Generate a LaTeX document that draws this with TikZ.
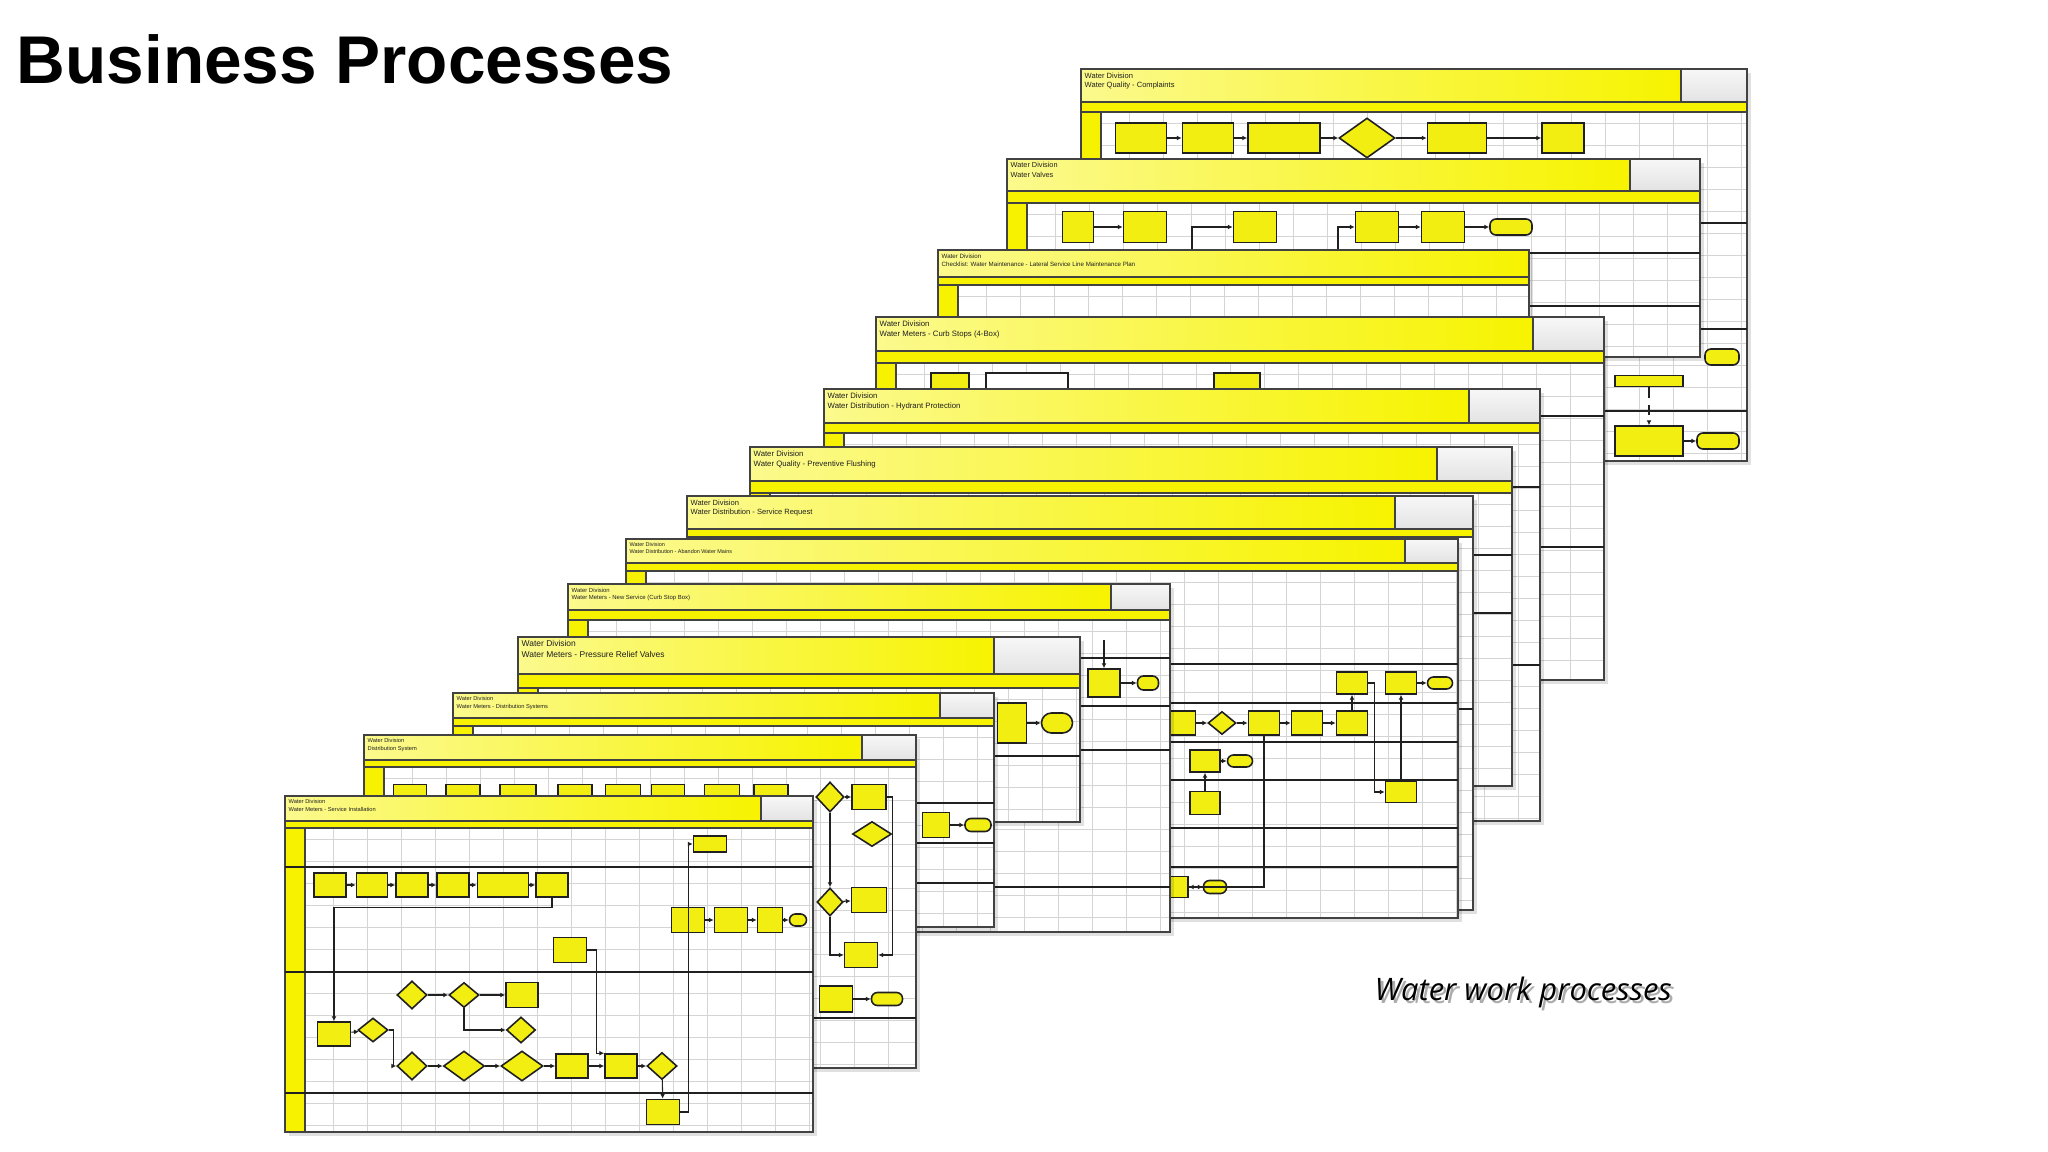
\documentclass[tikz,border=0pt]{standalone}
\usepackage{fontspec}
\setmainfont{Liberation Sans}
\newfontfamily\capfont{Open Sans}
\usetikzlibrary{shapes.geometric,arrows.meta}
\definecolor{hdr}{HTML}{F7F300}
\definecolor{boxyellow}{HTML}{F2EE12}
\definecolor{inkline}{HTML}{202020}
\definecolor{gridgray}{HTML}{D4D4D4}

\begin{document}
\begin{tikzpicture}[x=0.01cm,y=-0.01cm,
  gridline/.style={gridgray,line width=0.2pt},
  frame/.style={inkline!85,line width=0.45pt},
  laneline/.style={inkline,line width=0.5pt},
  pbox/.style={draw=inkline,fill=boxyellow,line width=0.45pt,inner sep=0pt,minimum width=3.2mm,minimum height=2.4mm},
  pdec/.style={pbox,diamond,minimum width=3mm,minimum height=2.6mm},
  pterm/.style={pbox,rounded corners=0.6mm,minimum width=2.4mm,minimum height=1.3mm},
  flow/.style={-{Latex[length=1.4pt,width=1.4pt]},inkline,line width=0.3pt}]
\useasboundingbox (0,0) rectangle (2048,1152);
\fill[white] (0,0) rectangle (2048,1152);
% one sheet: left, top, right, bottom, header bottom, band bottom, white box left, title, name
\def\procsheet#1#2#3#4#5#6#7#8#9{%
  \fill[black,opacity=0.12] ({#1+4},{#2+4}) rectangle ({#3+4},{#4+4});
  \fill[white] (#1,#2) rectangle (#3,#4);
  \begin{scope}
    \clip (#1,#6) rectangle (#3,#4);
    \foreach \gx in {14,48,...,1400} \draw[gridline] ({#1+\gx},#6) -- ({#1+\gx},#4);
    \foreach \gy in {11,33,...,1000} \draw[gridline] (#1,{#6+\gy}) -- (#3,{#6+\gy});
  \end{scope}
  \shade[left color=hdr!45!white,right color=hdr] (#1,#2) rectangle (#7,#5);
  \ifnum#7<#3\relax \shade[top color=gray!6,bottom color=gray!22] (#7,#2) rectangle (#3,#5);\fi
  \fill[hdr] (#1,#5) rectangle (#3,#6);
  \fill[hdr] (#1,#6) rectangle ({#1+20},#4);
  \draw[frame] (#1,#5) -- (#3,#5) (#1,#6) -- (#3,#6) ({#1+20},#6) -- ({#1+20},#4) (#7,#2) -- (#7,#5);
  \draw[frame] (#1,#2) rectangle (#3,#4);
  \pgfmathsetmacro\hfs{0.065*(#5-#2)}
  \pgfmathsetmacro\hbs{1.3*\hfs}
  \node[anchor=north west,align=left,inner sep=0pt,text=inkline,font=\fontsize{\hfs}{\hbs}\selectfont] (#9) at ({#1+3},{#2+3}) {Water Division\\#8};
}

% sheet A
\procsheet{1081}{69}{1747}{461}{102}{112}{1681}{Water Quality - Complaints}{hd-a}
\foreach \ly in {223,329,411} \draw[laneline] (1081,\ly) -- (1747,\ly);
\foreach \n/\x/\w in {1/1141/51,2/1208/51,3/1284/72,5/1457/59,6/1563/42}
  \node[pbox,minimum width=\w*0.1mm,minimum height=3mm] (a\n) at (\x,138) {};
\node[pdec,minimum width=5.6mm,minimum height=4mm] (a4) at (1367,138) {};
\foreach \s/\t in {1/2,2/3,3/4,4/5,5/6} \draw[flow] (a\s) -- (a\t);
\node[pbox,minimum width=6.8mm,minimum height=1.1mm] (a7) at (1649,381) {};
\node[pbox,minimum width=6.8mm,minimum height=3mm] (a8) at (1649,441) {};
\node[pterm,minimum width=3.4mm,minimum height=1.6mm] (a9) at (1722,357) {};
\node[pterm,minimum width=4.2mm,minimum height=1.6mm] (a10) at (1718,441) {};
\draw[flow,densely dashed] (a7) -- (a8);
\draw[flow] (a8) -- (a10);

% sheet B
\procsheet{1007}{159}{1700}{357}{191}{203}{1630}{Water Valves}{hd-b}
\foreach \ly in {253,306} \draw[laneline] (1007,\ly) -- (1700,\ly);
\foreach \n/\x/\w in {1/1078/31,2/1145/43,3/1255/43,4/1377/43,5/1443/43}
  \node[pbox,minimum width=\w*0.1mm,minimum height=3.1mm] (b\n) at (\x,227) {};
\node[pterm,minimum width=4.2mm,minimum height=1.6mm] (b6) at (1511,227) {};
\foreach \s/\t in {1/2,4/5,5/6} \draw[flow] (b\s) -- (b\t);
\coordinate (b3in) at (1192,250);
\coordinate (b4in) at (1338,250);
\draw[flow] (b3in) |- (b3.west);
\draw[flow] (b4in) |- (b4.west);

% sheet C
\procsheet{938}{250}{1529}{420}{277}{285}{1529}{Checklist: Water Maintenance - Lateral Service Line Maintenance Plan}{hd-c}

% sheet D
\procsheet{876}{317}{1604}{680}{351}{363}{1533}{Water Meters - Curb Stops (4-Box)}{hd-d}
\foreach \ly in {416,547} \draw[laneline] (876,\ly) -- (1604,\ly);
\node[pbox,minimum width=3.8mm,minimum height=2mm] (d1) at (950,383) {};
\node[pbox,fill=white,minimum width=8.2mm,minimum height=2mm] (d2) at (1027,383) {};
\node[pbox,minimum width=4.6mm,minimum height=2mm] (d3) at (1237,383) {};

% sheet E
\procsheet{824}{389}{1540}{821}{423}{433}{1469}{Water Distribution - Hydrant Protection}{hd-e}
\foreach \ly in {487,665} \draw[laneline] (824,\ly) -- (1540,\ly);

% sheet F
\procsheet{750}{447}{1512}{786}{481}{493}{1437}{Water Quality - Preventive Flushing}{hd-f}
\foreach \ly in {555,613} \draw[laneline] (750,\ly) -- (1512,\ly);

% sheet G
\procsheet{687}{496}{1473}{910}{529}{537}{1395}{Water Distribution - Service Request}{hd-g}
\foreach \ly in {709} \draw[laneline] (687,\ly) -- (1473,\ly);

% sheet H
\procsheet{626}{539}{1458}{918}{563}{571}{1405}{Water Distribution - Abandon Water Mains}{hd-h}
\foreach \ly in {664,703,742,780,828,867} \draw[laneline] (626,\ly) -- (1458,\ly);
\foreach \n/\x in {1/1180,3/1264,4/1307,5/1352}
  \node[pbox,minimum width=3.1mm,minimum height=2.4mm] (h\n) at (\x,723) {};
\node[pdec,minimum width=2.8mm,minimum height=2.3mm] (h2) at (1222,723) {};
\node[pbox,minimum width=3.1mm,minimum height=2.2mm] (h6) at (1352,683) {};
\node[pbox,minimum width=3.1mm,minimum height=2.2mm] (h7) at (1401,683) {};
\node[pterm,minimum width=2.5mm,minimum height=1.2mm] (h8) at (1440,683) {};
\node[pbox,minimum width=3mm,minimum height=2.2mm] (h9) at (1205,761) {};
\node[pterm,minimum width=2.5mm,minimum height=1.2mm] (h10) at (1240,761) {};
\node[pbox,minimum width=3mm,minimum height=2.3mm] (h11) at (1205,803) {};
\node[pbox,minimum width=3.1mm,minimum height=2.1mm] (h12) at (1401,792) {};
\node[pbox,minimum width=2.6mm,minimum height=2.1mm] (h13) at (1175,887) {};
\node[pterm,minimum width=2.3mm,minimum height=1.3mm] (h14) at (1215,887) {};
\foreach \s/\t in {1/2,2/3,3/4,4/5,5/6,7/8,12/7,11/9,9/10,13/14} \draw[flow] (h\s) -- (h\t);
\draw[flow] (h6.east) -- ++(6,0) |- (h12.west);
\draw[flow] (h3.south) |- (h13.east);

% sheet I
\procsheet{568}{584}{1170}{932}{610}{620}{1111}{Water Meters - New Service (Curb Stop Box)}{hd-i}
\foreach \ly in {658,706,750,887} \draw[laneline] (568,\ly) -- (1170,\ly);
\node[pbox,minimum width=3.2mm,minimum height=2.8mm] (i1) at (1104,683) {};
\node[pterm,minimum width=2.1mm,minimum height=1.4mm] (i2) at (1148,683) {};
\coordinate (i1in) at (1104,640);
\draw[flow] (i1in) -- (i1);
\draw[flow] (i1) -- (i2);

% sheet J
\procsheet{518}{637}{1080}{822}{674}{688}{994}{Water Meters - Pressure Relief Valves}{hd-j}
\foreach \ly in {756} \draw[laneline] (518,\ly) -- (1080,\ly);
\node[pbox,minimum width=2.9mm,minimum height=4mm] (j1) at (1012,723) {};
\node[pterm,minimum width=3.1mm,minimum height=2mm,rounded corners=1mm] (j2) at (1057,723) {};
\draw[flow] (j1) -- (j2);

% sheet K
\procsheet{453}{693}{994}{927}{718}{726}{940}{Water Meters - Distribution Systems}{hd-k}
\foreach \ly in {803,843,883} \draw[laneline] (453,\ly) -- (994,\ly);
\node[pbox,minimum width=2.7mm,minimum height=2.5mm] (k1) at (936,825) {};
\node[pterm,minimum width=2.6mm,minimum height=1.3mm] (k2) at (978,825) {};
\draw[flow] (k1) -- (k2);

% sheet L
\procsheet{364}{735}{916}{1068}{760}{767}{862}{Distribution System}{hd-l}
\foreach \ly in {1018} \draw[laneline] (364,\ly) -- (916,\ly);
\foreach \n/\x/\w in {1/410/33,2/463/34,3/518/36,4/575/34,5/623/35,6/668/33,7/722/35,8/771/34}
  \node[pbox,minimum width=\w*0.1mm,minimum height=2.5mm] (l\n) at (\x,797) {};
\node[pdec,minimum width=2.8mm,minimum height=3mm] (l9) at (830,797) {};
\node[pbox,minimum width=3.4mm,minimum height=2.5mm] (l10) at (869,797) {};
\node[pdec,minimum width=3.9mm,minimum height=2.5mm] (l11) at (872,834) {};
\node[pdec,minimum width=2.6mm,minimum height=2.8mm] (l12) at (830,902) {};
\node[pbox,minimum width=3.5mm,minimum height=2.5mm] (l13) at (869,900) {};
\node[pbox,minimum width=3.3mm,minimum height=2.5mm] (l14) at (861,955) {};
\node[pbox,minimum width=3.3mm,minimum height=2.6mm] (l15) at (836,999) {};
\node[pterm,minimum width=3.1mm,minimum height=1.3mm] (l16) at (887,999) {};
\foreach \s/\t in {9/10,9/12,12/13,15/16} \draw[flow] (l\s) -- (l\t);
\draw[flow] (l12.south) |- (l14.west);
\draw[flow] (l10.east) -- ++(6,0) |- (l14.east);

% sheet M (front)
\procsheet{285}{796}{813}{1132}{821}{828}{761}{Water Meters - Service Installation}{hd-m}
\foreach \ly in {867,972,1093} \draw[laneline] (285,\ly) -- (813,\ly);
\foreach \n/\x/\w in {1/330/32,2/372/31,3/412/32,4/453/32,5/503/51,6/552/32}
  \node[pbox,minimum width=\w*0.1mm,minimum height=2.4mm] (m\n) at (\x,885) {};
\foreach \s/\t in {1/2,2/3,3/4,4/5,5/6} \draw[flow] (m\s) -- (m\t);
\node[pbox,minimum width=3.3mm,minimum height=1.6mm] (m7) at (710,844) {};
\foreach \n/\x/\w in {8/688/33,9/731/33,10/770/25}
  \node[pbox,minimum width=\w*0.1mm,minimum height=2.5mm] (m\n) at (\x,920) {};
\node[pterm,minimum width=1.7mm,minimum height=1.2mm] (m11) at (798,920) {};
\foreach \s/\t in {8/9,9/10,10/11} \draw[flow] (m\s) -- (m\t);
\node[pbox,minimum width=3.3mm,minimum height=2.5mm] (m12) at (570,950) {};
\node[pdec,minimum width=3mm,minimum height=2.8mm] (m13) at (412,995) {};
\node[pdec,minimum width=3mm,minimum height=2.5mm] (m14) at (464,995) {};
\node[pbox,minimum width=3.2mm,minimum height=2.5mm] (m15) at (522,995) {};
\node[pbox,minimum width=3.3mm,minimum height=2.4mm] (m16) at (334,1034) {};
\node[pdec,minimum width=3mm,minimum height=2.4mm] (m17) at (373,1030) {};
\node[pdec,minimum width=2.9mm,minimum height=2.6mm] (m18) at (521,1030) {};
\node[pdec,minimum width=3mm,minimum height=2.8mm] (m19) at (412,1066) {};
\node[pdec,minimum width=4.1mm,minimum height=3mm] (m20) at (464,1066) {};
\node[pdec,minimum width=4.2mm,minimum height=3mm] (m21) at (522,1066) {};
\node[pbox,minimum width=3.2mm,minimum height=2.4mm] (m22) at (572,1066) {};
\node[pbox,minimum width=3.2mm,minimum height=2.4mm] (m23) at (621,1066) {};
\node[pdec,minimum width=3mm,minimum height=2.7mm] (m24) at (662,1066) {};
\node[pbox,minimum width=3.3mm,minimum height=2.5mm] (m25) at (663,1112) {};
\foreach \s/\t in {13/14,14/15,16/17,19/20,20/21,21/22,22/23,23/24,24/25} \draw[flow] (m\s) -- (m\t);
\draw[flow] (m6.south) -- ++(0,10) -| (m16.north);
\draw[flow] (m17.east) -- ++(5,0) |- (m19.west);
\draw[flow] (m14.south) |- (m18.west);
\draw[flow] (m25.east) -- ++(8,0) |- (m7.west);
\draw[flow] (m12.east) -- ++(9,0) |- (m23.north west);

% title and caption
\node[anchor=base west,inner sep=0pt,font=\fontsize{19.2}{23}\selectfont\bfseries] (title) at (16,84) {Business Processes};
\node[anchor=base west,inner sep=0pt,text=gray!65,font=\capfont\itshape\fontsize{8.8}{10}\selectfont] (capshade) at (1377,1003) {Water work processes};
\node[anchor=base west,inner sep=0pt,font=\capfont\itshape\fontsize{8.8}{10}\selectfont] (caption) at (1374,1000) {Water work processes};
\end{tikzpicture}
\end{document}
